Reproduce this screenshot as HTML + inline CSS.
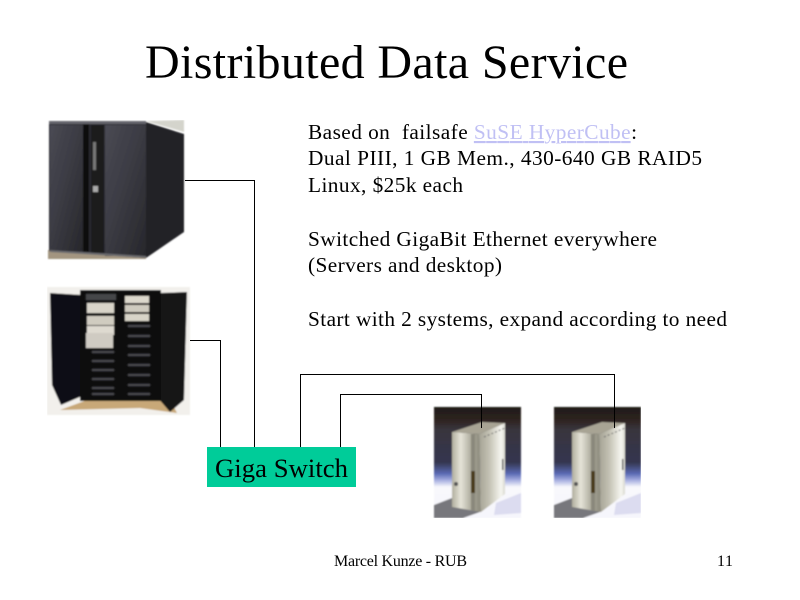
<!DOCTYPE html>
<html><head><meta charset="utf-8"><style>
html,body{margin:0;padding:0;background:#fff}
svg{display:block}
text{font-family:"Liberation Serif",serif;fill:#000}
</style></head><body>
<svg xmlns="http://www.w3.org/2000/svg" width="800" height="600" viewBox="0 0 800 600">
<defs>
<filter id="soft" x="0" y="0" width="100%" height="100%"><feGaussianBlur stdDeviation="0.7"/></filter>
<linearGradient id="door2" x1="0" x2="1" y1="0" y2="1"><stop offset="0" stop-color="#4a4a54"/><stop offset=".5" stop-color="#3a3a42"/><stop offset="1" stop-color="#27272b"/></linearGradient>
<linearGradient id="bg" x1="0" x2="0" y1="0" y2="1">
<stop offset="0" stop-color="#1e1a18"/><stop offset=".12" stop-color="#2e2420"/><stop offset=".2" stop-color="#38343c"/><stop offset=".5" stop-color="#343650"/><stop offset=".6" stop-color="#5a6ab4"/><stop offset=".66" stop-color="#a6aee0"/><stop offset=".72" stop-color="#f8f8fc"/><stop offset="1" stop-color="#f6f6fc"/></linearGradient>
<linearGradient id="front" x1="0" x2="1" y1="0" y2="0"><stop offset="0" stop-color="#b0ae9e"/><stop offset=".3" stop-color="#e6e4d8"/><stop offset=".7" stop-color="#a8a698"/><stop offset="1" stop-color="#8a887a"/></linearGradient>
<linearGradient id="side" x1="0" x2="1" y1="0" y2="0"><stop offset="0" stop-color="#a4a294"/><stop offset=".4" stop-color="#c4c2b4"/><stop offset=".85" stop-color="#f6f6f0"/><stop offset="1" stop-color="#d8d8d0"/></linearGradient>
<g id="pc">
<rect x="0" y="0" width="87" height="111" fill="url(#bg)"/>
<path d="M0 111V98L18 91L46 105L29 111Z" fill="#77777c"/>
<path d="M62 96L87 86V106L60 108Z" fill="#dcdcf0"/>
<path d="M18 25L48 15L71 16L45 27Z" fill="#a8a494"/>
<path d="M18 25L45 27L47 105L18 100Z" fill="url(#front)"/>
<path d="M45 27L71 16V87L47 105Z" fill="url(#side)"/>
<path d="M37 27H41V104L37 103Z" fill="#8a887c"/>
<rect x="37" y="64" width="4" height="22" fill="#4a3a1c"/>
<rect x="68" y="52" width="1.5" height="11" fill="#555"/>
<circle cx="22" cy="77" r="2" fill="#555"/>
<path d="M50 30L71 21" stroke="#666" stroke-width="1" stroke-dasharray="2 2"/>
</g>
</defs>

<text x="145" y="78" font-size="48" textLength="483">Distributed Data Service</text>

<g filter="url(#soft)">
<!-- Cabinet 1 -->
<path d="M146 121L184 132V120Z" fill="#d4d4cc"/>
<path d="M48 250H146V259H48Z" fill="#a39580"/>
<path d="M49 122H146V258L49 251Z" fill="#2a2a30"/>
<path d="M50 125H83V250H50Z" fill="url(#door2)"/>
<path d="M105 125H146V256H105Z" fill="url(#door2)"/>
<rect x="83" y="122" width="6" height="130" fill="#0c0c0e"/>
<rect x="91" y="125" width="13" height="128" fill="#1b1b1f"/>
<rect x="49" y="121" width="97" height="3" fill="#65656c"/>
<path d="M50 250L146 256V258L50 252Z" fill="#6a6a6e"/>
<path d="M146 122L184 134V232L146 258Z" fill="#232225"/>
<rect x="93" y="142" width="3" height="28" fill="#777"/>
<rect x="93" y="186" width="5" height="6" fill="#aaa"/>

<!-- Cabinet 2 -->
<rect x="47" y="287" width="143" height="128" fill="#f2f0ec"/>
<path d="M60 410L90 399H170L177 413L140 408Z" fill="#c8a878"/>
<path d="M50 293L82 295V396L61 405L52 385Z" fill="#111114"/>
<path d="M160 293L187 292L184 400L170 412L158 398Z" fill="#141416"/>
<rect x="80" y="290" width="81" height="111" fill="#0e0e10"/>
<rect x="86" y="294" width="30" height="6" fill="#44464a"/>
<rect x="87" y="303" width="27" height="10" fill="#d8d4c8"/>
<rect x="87" y="316" width="27" height="9" fill="#d0ccc0"/>
<rect x="87" y="326" width="27" height="9" fill="#dedad0"/>
<rect x="86" y="333" width="27" height="15" fill="#cfcbc2"/>
<rect x="125" y="296" width="24" height="7" fill="#dcd8cc"/>
<rect x="125" y="305" width="24" height="7" fill="#cfcbbf"/>
<rect x="125" y="314" width="24" height="7" fill="#d8d4c8"/>
<g fill="#4a4a4e">
<rect x="128" y="325" width="22" height="2"/><rect x="128" y="335" width="22" height="2"/><rect x="128" y="345" width="22" height="2"/><rect x="128" y="354" width="22" height="2"/><rect x="128" y="364" width="22" height="2"/><rect x="128" y="374" width="22" height="2"/><rect x="128" y="384" width="22" height="2"/><rect x="128" y="393" width="22" height="2"/>
<rect x="92" y="351" width="22" height="2"/><rect x="92" y="360" width="22" height="2"/><rect x="92" y="369" width="22" height="2"/><rect x="92" y="378" width="22" height="2"/><rect x="92" y="387" width="22" height="2"/><rect x="92" y="393" width="22" height="2"/>
</g>

<!-- Towers -->
<use href="#pc" x="434" y="407"/>
<use href="#pc" x="554" y="407"/>
</g>

<!-- Connectors -->
<g fill="none" stroke="#000" stroke-width="1" shape-rendering="crispEdges">
<path d="M185 180.5H254.5V447"/>
<path d="M190 340.5H220.5V447"/>
<path d="M300.5 447V374.5H614.5V428"/>
<path d="M340.5 447V394.5H481.5V428"/>
</g>

<!-- Switch -->
<rect x="207" y="447" width="149" height="40" fill="#00cc99"/>
<text x="215" y="477" font-size="26.67" textLength="133">Giga Switch</text>

<!-- Body text -->
<g font-size="21.33">
<text x="308" y="139" textLength="329">Based on&#160; failsafe <tspan fill="#c0c0f4" text-decoration="underline">SuSE HyperCube</tspan>:</text>
<text x="308" y="165" textLength="394">Dual PIII, 1 GB Mem., 430-640 GB RAID5</text>
<text x="308" y="192" textLength="155">Linux, $25k each</text>
<text x="308" y="246" textLength="349">Switched GigaBit Ethernet everywhere</text>
<text x="308" y="272" textLength="194">(Servers and desktop)</text>
<text x="308" y="326" textLength="419">Start with 2 systems, expand according to need</text>
</g>

<!-- Footer -->
<text x="334" y="566" font-size="16" textLength="133">Marcel Kunze - RUB</text>
<text x="717" y="566" font-size="16" textLength="16">11</text>
</svg>
</body></html>
